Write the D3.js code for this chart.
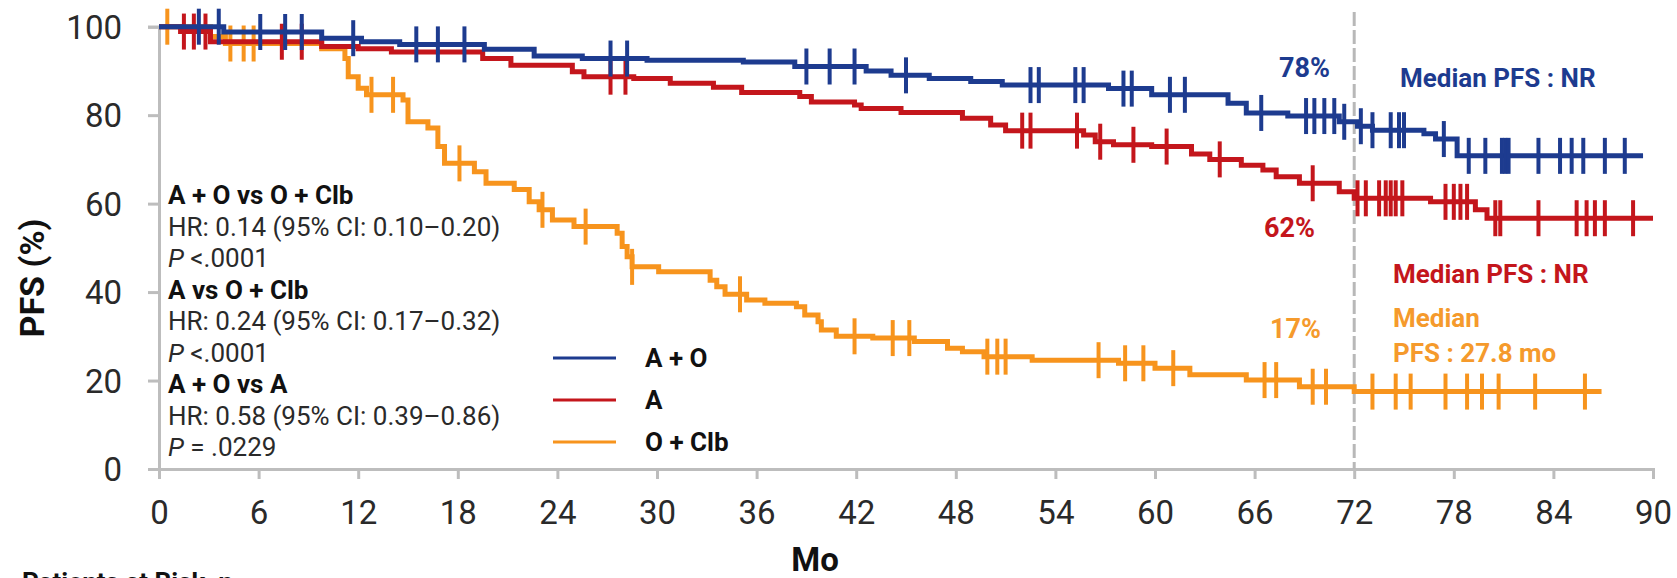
<!DOCTYPE html>
<html>
<head>
<meta charset="utf-8">
<script src="https://cdn.jsdelivr.net/npm/d3@7"></script>
<style>
  html, body { margin: 0; padding: 0; background: #fff; }
  svg { display: block; font-family: Roboto, "Liberation Sans", Arial, sans-serif; }
</style>
</head>
<body>
<svg id="chart" width="1677" height="578"></svg>
<script>
// ---- axis ticks ----
const monthTicks = [0, 6, 12, 18, 24, 30, 36, 42, 48, 54, 60, 66, 72, 78, 84, 90];
const pfsTicks = [0, 20, 40, 60, 80, 100];

// ---- A + O (step times in months, PFS % after each step; last point ends the curve) ----
const aoTimes = [0, 3.9, 9.8, 12.2, 14.5, 19.6, 22.6, 25.5, 29.4, 35.2, 38.3, 42.6, 44.1, 46.4, 48.9, 50.8, 57.2, 59.8, 64.4, 65.5, 68.0, 71.1, 72.2, 73.1, 76.2, 76.9, 78.2, 89.4];
const aoSurv  = [100, 98.8, 97.4, 96.6, 96.0, 94.9, 93.4, 92.8, 92.4, 92.0, 91.0, 90.0, 89.0, 88.3, 87.6, 86.8, 86.0, 84.6, 82.7, 80.5, 79.8, 78.5, 77.5, 76.6, 75.8, 74.6, 70.8, 70.8];
const aoCensor = [2.4, 3.6, 6.1, 7.6, 8.6, 11.7, 15.5, 16.8, 18.4, 27.2, 28.2, 39.0, 40.4, 41.9, 45.0, 52.5, 53.0, 55.2, 55.7, 58.1, 58.6, 60.9, 61.8, 66.4, 69.1, 69.6, 70.2, 70.8, 71.4, 72.4, 73.1, 74.2, 74.7, 75.0, 77.4, 78.9, 79.9, 80.9, 81.1, 81.3, 83.1, 84.4, 85.1, 85.8, 87.1, 88.3];

// ---- A ----
const aTimes = [0, 1.3, 3.1, 9.8, 12.0, 14.0, 19.5, 21.2, 24.9, 25.6, 28.6, 30.8, 33.4, 35.1, 38.6, 39.3, 41.9, 42.3, 44.7, 48.4, 50.1, 51.0, 55.7, 56.4, 57.5, 59.8, 62.2, 63.3, 65.2, 66.5, 67.3, 68.7, 71.1, 72.0, 76.6, 79.3, 80.0, 90.0];
const aSurv  = [100, 98.9, 96.6, 95.5, 95.0, 94.3, 92.8, 91.3, 89.8, 88.7, 88.3, 87.2, 86.3, 85.1, 84.2, 83.0, 82.3, 81.5, 80.6, 79.3, 77.8, 76.5, 75.5, 74.0, 73.3, 72.9, 71.2, 70.0, 68.7, 67.6, 66.1, 64.6, 62.7, 61.2, 60.4, 58.6, 56.7, 56.7];
const aCensor = [1.5, 2.1, 2.8, 7.4, 8.6, 27.2, 28.1, 52.0, 52.5, 55.3, 56.7, 58.7, 60.7, 63.9, 69.5, 72.2, 72.7, 73.5, 73.9, 74.2, 74.5, 74.9, 77.5, 78.0, 78.4, 78.8, 80.5, 80.8, 83.1, 85.4, 86.0, 86.5, 87.1, 88.8];

// ---- O + Clb ----
const ocTimes = [0, 3.1, 4.0, 9.8, 11.2, 11.4, 12.0, 12.5, 14.7, 15.0, 16.2, 16.8, 17.2, 19.0, 19.7, 21.4, 22.3, 22.9, 23.7, 25.0, 27.6, 27.9, 28.2, 28.5, 30.1, 33.2, 33.6, 34.1, 35.4, 36.5, 38.4, 38.9, 39.7, 39.9, 40.8, 43.0, 45.5, 47.5, 48.4, 49.7, 52.6, 57.8, 60.0, 62.1, 65.5, 68.7, 72.0, 86.9];
const ocSurv  = [100, 97.8, 96.2, 95.0, 92.8, 88.7, 86.1, 84.6, 83.4, 78.5, 77.1, 72.9, 69.1, 67.2, 64.6, 63.2, 60.4, 58.6, 56.3, 54.8, 53.3, 50.3, 48.0, 45.7, 44.6, 42.7, 41.2, 39.5, 38.2, 37.5, 36.7, 34.8, 33.3, 31.4, 30.0, 29.6, 28.8, 27.3, 26.5, 25.4, 24.6, 23.9, 22.8, 21.3, 20.1, 18.6, 17.5, 17.5];
const ocCensor = [0.5, 4.3, 5.1, 5.7, 12.8, 14.1, 18.1, 23.1, 25.7, 28.5, 35.0, 41.9, 44.2, 45.2, 49.9, 50.5, 51.0, 56.6, 58.2, 59.3, 61.1, 66.6, 67.3, 69.5, 70.3, 73.1, 74.5, 75.4, 77.5, 78.8, 79.7, 80.7, 82.9, 85.9];

const seriesNames = ["A + O", "A", "O + Clb"];
const seriesColors = ["#1d3b8f", "#c4161c", "#f7941d"];

// ---- statistics block ----
const statLines = [
  { text: "A + O vs O + Clb", bold: true },
  { text: "HR: 0.14 (95% CI: 0.10–0.20)" },
  { p: "<.0001" },
  { text: "A vs O + Clb", bold: true },
  { text: "HR: 0.24 (95% CI: 0.17–0.32)" },
  { p: "<.0001" },
  { text: "A + O vs A", bold: true },
  { text: "HR: 0.58 (95% CI: 0.39–0.86)" },
  { p: "= .0229" }
];

// ---- landmark annotations ----
const landmarkMonth = 72;
const landmarkPct = ["78%", "62%", "17%"];
const medianLabels = [["Median PFS : NR"], ["Median PFS : NR"], ["Median", "PFS : 27.8 mo"]];

// ---- layout ----
const svg = d3.select("#chart");
const x = d3.scaleLinear().domain([0, 90]).range([159, 1653]);
const y = d3.scaleLinear().domain([0, 100]).range([469, 26.7]);
const axisColor = "#bdbdbd";

// x axis
const gx = svg.append("g").attr("transform", `translate(0,${y(0)})`)
  .call(d3.axisBottom(x).tickValues(monthTicks).tickSize(10).tickSizeOuter(10).tickFormat(d3.format("d")));
gx.selectAll("path, line").attr("stroke", axisColor).attr("stroke-width", 3);
gx.selectAll("text").attr("y", 55).attr("dy", 0)
  .attr("font-size", 33).attr("fill", "#2a2a2a").attr("font-family", "Roboto, sans-serif");

// y axis
const gy = svg.append("g").attr("transform", `translate(${x(0)},0)`)
  .call(d3.axisLeft(y).tickValues(pfsTicks).tickSize(11).tickSizeOuter(11));
gy.selectAll("path, line").attr("stroke", axisColor).attr("stroke-width", 3);
gy.selectAll("text").attr("x", -37).attr("dy", "0.35em")
  .attr("font-size", 33).attr("fill", "#2a2a2a").attr("font-family", "Roboto, sans-serif");

// axis titles
svg.append("text").attr("x", 815).attr("y", 571).attr("text-anchor", "middle")
  .attr("font-size", 33).attr("font-weight", "bold").attr("fill", "#111").text("Mo");
svg.append("text").attr("transform", "translate(44,278) rotate(-90)").attr("text-anchor", "middle")
  .attr("font-size", 34).attr("font-weight", "bold").attr("fill", "#111").text("PFS (%)");

// patients-at-risk heading (runs off the bottom edge)
svg.append("text").attr("x", 22).attr("y", 591)
  .attr("font-size", 26).attr("font-weight", "bold").attr("fill", "#111").text("Patients at Risk, n");

// landmark line at 72 months
svg.append("line").attr("x1", x(landmarkMonth)).attr("x2", x(landmarkMonth))
  .attr("y1", 12).attr("y2", y(0))
  .attr("stroke", "#b8b8b8").attr("stroke-width", 3).attr("stroke-dasharray", "14,4");

// step-function helper
function survAt(times, surv, t) {
  let v = surv[0];
  for (let i = 0; i < times.length; i++) { if (times[i] <= t) v = surv[i]; else break; }
  return v;
}

const series = [
  { times: aoTimes, surv: aoSurv, censor: aoCensor },
  { times: aTimes, surv: aSurv, censor: aCensor },
  { times: ocTimes, surv: ocSurv, censor: ocCensor }
].map((s, i) => ({ ...s, name: seriesNames[i], color: seriesColors[i] }));

const line = d3.line().x(d => x(d[0])).y(d => y(d[1])).curve(d3.curveStepAfter);

// draw O + Clb first, then A, then A + O on top
[2, 1, 0].forEach(i => {
  const s = series[i];
  const g = svg.append("g");
  g.append("path").datum(s.times.map((t, k) => [t, s.surv[k]]))
    .attr("d", line).attr("fill", "none").attr("stroke", s.color).attr("stroke-width", 5);
  g.selectAll("line.censor").data(s.censor).join("line").attr("class", "censor")
    .attr("x1", d => x(d)).attr("x2", d => x(d))
    .attr("y1", d => y(survAt(s.times, s.surv, d)) - 18)
    .attr("y2", d => y(survAt(s.times, s.surv, d)) + 18)
    .attr("stroke", s.color).attr("stroke-width", 4);
});

// statistics text
const stats = svg.append("g").attr("font-size", 26).attr("fill", "#2a2a2a");
statLines.forEach((d, i) => {
  const t = stats.append("text").attr("x", 168).attr("y", 204 + i * 31.5);
  if (d.p) {
    t.append("tspan").attr("font-style", "italic").text("P");
    t.append("tspan").text(" " + d.p);
  } else {
    t.text(d.text).attr("font-weight", d.bold ? "bold" : "normal").attr("fill", d.bold ? "#111" : "#2a2a2a");
  }
});

// legend
const legendY = [358, 400, 442];
series.forEach((s, i) => {
  svg.append("line").attr("x1", 553).attr("x2", 616).attr("y1", legendY[i]).attr("y2", legendY[i])
    .attr("stroke", s.color).attr("stroke-width", 3);
  svg.append("text").attr("x", 645).attr("y", legendY[i] + 9)
    .attr("font-size", 26).attr("font-weight", "bold").attr("fill", "#111").text(s.name);
});

// landmark percentages and medians
const pctPos = [[1279, 77], [1264, 237], [1270, 338]];
const textColors = ["#1d3b8f", "#c4161c", "#f59a2c"];
landmarkPct.forEach((p, i) => {
  svg.append("text").attr("x", pctPos[i][0]).attr("y", pctPos[i][1])
    .attr("font-size", 27).attr("font-weight", "bold").attr("fill", textColors[i]).text(p);
});
const medPos = [[1400, 87, 0], [1393, 283, 0], [1393, 327, 35]];
medianLabels.forEach((lines, i) => {
  lines.forEach((l, k) => {
    svg.append("text").attr("x", medPos[i][0]).attr("y", medPos[i][1] + k * medPos[i][2])
      .attr("font-size", 26).attr("font-weight", "bold").attr("fill", textColors[i]).text(l);
  });
});
</script>
</body>
</html>
